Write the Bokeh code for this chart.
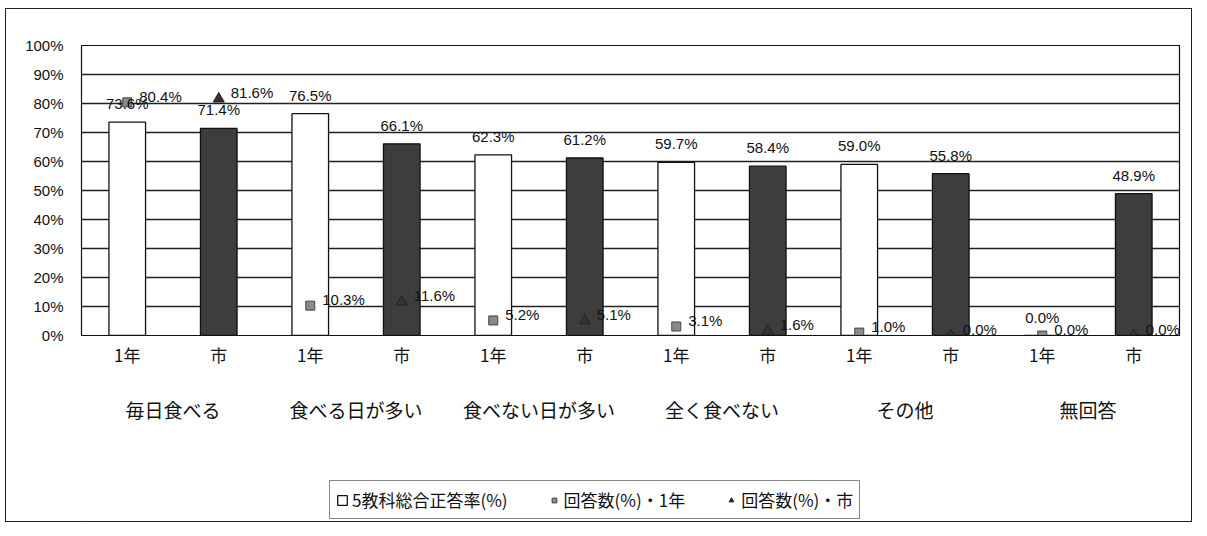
from bokeh.plotting import figure
from bokeh.layouts import column
from bokeh.models import (FactorRange, Range1d, ColumnDataSource, LabelSet, Legend, LegendItem,
                          CategoricalAxis, PrintfTickFormatter, FixedTicker)
from bokeh.core.properties import value
from bokeh.embed import file_html
from bokeh.resources import INLINE

groups = ["毎日食べる", "食べる日が多い", "食べない日が多い", "全く食べない", "その他", "無回答"]
subs = ["1年", "市"]
rate_1nen = [73.6, 76.5, 62.3, 59.7, 59.0, 0.0]
rate_shi = [71.4, 66.1, 61.2, 58.4, 55.8, 48.9]
resp_1nen = [80.4, 10.3, 5.2, 3.1, 1.0, 0.0]
resp_shi = [81.6, 11.6, 5.1, 1.6, 0.0, 0.0]
y_ticks = list(range(0, 101, 10))
legend_labels = ["5教科総合正答率(%)", "回答数(%)・1年", "回答数(%)・市"]

NUM_FONT = "Liberation Sans"
JP_FONT = "Noto Sans CJK JP"

factors = [(g, s) for g in groups for s in subs]
x1 = [(g, "1年") for g in groups]
x2 = [(g, "市") for g in groups]

def fmt(vals):
    return [f"{v:.1f}%" for v in vals]

src_b1 = ColumnDataSource(dict(x=x1, top=rate_1nen, lab=fmt(rate_1nen)))
src_b2 = ColumnDataSource(dict(x=x2, top=rate_shi, lab=fmt(rate_shi)))
src_m1 = ColumnDataSource(dict(x=x1, y=resp_1nen, lab=fmt(resp_1nen)))
src_m2 = ColumnDataSource(dict(x=x2, y=resp_shi, lab=fmt(resp_shi)))

BAR1 = dict(fill_color="white", line_color="#111", line_width=1.3)
BAR2 = dict(fill_color="#3d3d3d", line_color="#111", line_width=1.3)
SQ = dict(marker="square", size=9, fill_color="#8a8a8a", line_color="#444")
TRI = dict(marker="triangle", size=11, fill_color="#333333", line_color="#222")

p = figure(x_range=FactorRange(*factors, factor_padding=0, group_padding=0, range_padding=0),
           y_range=Range1d(0, 100),
           frame_width=1098, frame_height=290,
           min_border_left=75, min_border_right=12, min_border_top=36, min_border_bottom=130,
           output_backend="svg", toolbar_location=None,
           x_axis_location=None, y_axis_location="left")
p.background_fill_color = "white"
p.border_fill_color = "white"
p.outline_line_color = "#111"
p.outline_line_width = 1.2

p.extra_x_ranges = {"grp": FactorRange(*groups, factor_padding=0, range_padding=0)}

# y axis
yax = p.yaxis[0]
yax.ticker = FixedTicker(ticks=y_ticks)
yax.formatter = PrintfTickFormatter(format="%d%%")
yax.major_tick_line_color = None
yax.minor_tick_line_color = None
yax.axis_line_color = "#111"
yax.major_label_text_font = NUM_FONT
yax.major_label_text_font_size = "15px"
yax.major_label_text_color = "#111"
yax.major_label_standoff = 12

p.ygrid.ticker = FixedTicker(ticks=y_ticks)
p.ygrid.grid_line_color = "#222"
p.ygrid.grid_line_width = 1.3
p.xgrid.grid_line_color = None

# x axes
xax = CategoricalAxis()
xax.axis_line_color = "#111"
xax.major_tick_line_color = None
xax.minor_tick_line_color = None
xax.major_label_text_font = JP_FONT
xax.major_label_text_font_size = "17px"
xax.major_label_text_color = "#111"
xax.major_label_standoff = 0
xax.group_text_color = None
xax.group_text_font_size = "16px"
xax.separator_line_color = None
p.add_layout(xax, "below")

gax = CategoricalAxis(x_range_name="grp")
gax.axis_line_color = None
gax.major_tick_line_color = None
gax.minor_tick_line_color = None
gax.major_label_text_font = JP_FONT
gax.major_label_text_font_size = "19px"
gax.major_label_text_color = "#111"
gax.major_label_standoff = 20
p.add_layout(gax, "below")

# bars
r_b1 = p.vbar(x="x", top="top", width=0.4, source=src_b1, **BAR1)
r_b2 = p.vbar(x="x", top="top", width=0.4, source=src_b2, **BAR2)

# markers
r_m1 = p.scatter(x="x", y="y", source=src_m1, **SQ)
r_m2 = p.scatter(x="x", y="y", source=src_m2, **TRI)

lab_kw = dict(text_font=value(NUM_FONT), text_font_size="15px", text_color="#111")
p.add_layout(LabelSet(x="x", y="top", text="lab", source=src_b1, text_align="center",
                      text_baseline="bottom", y_offset=10, **lab_kw))
p.add_layout(LabelSet(x="x", y="top", text="lab", source=src_b2, text_align="center",
                      text_baseline="bottom", y_offset=10, **lab_kw))
p.add_layout(LabelSet(x="x", y="y", text="lab", source=src_m1, text_align="left",
                      text_baseline="middle", x_offset=12, y_offset=6, **lab_kw))
p.add_layout(LabelSet(x="x", y="y", text="lab", source=src_m2, text_align="left",
                      text_baseline="middle", x_offset=12, y_offset=6, **lab_kw))

# legend strip (separate small figure so the legend box is not clipped)
q = figure(width=1185, height=56, x_range=Range1d(0, 1), y_range=Range1d(0, 1),
           min_border=0, output_backend="svg", toolbar_location=None,
           x_axis_location=None, y_axis_location=None)
q.outline_line_color = None
q.grid.grid_line_color = None
q.background_fill_color = "white"
q.border_fill_color = "white"
# legend proxies, placed outside the visible range of the strip
l1 = q.vbar(x=[-5], top=[-5], width=0.1, **BAR1)
l2 = q.scatter(x=[-5], y=[-5], **SQ)
l3 = q.scatter(x=[-5], y=[-5], **TRI)
legend = Legend(items=[LegendItem(label=legend_labels[0], renderers=[l1]),
                       LegendItem(label=legend_labels[1], renderers=[l2]),
                       LegendItem(label=legend_labels[2], renderers=[l3])],
                orientation="horizontal", location=(248, 2),
                label_text_font=JP_FONT, label_text_font_size="17px", label_text_color="#111",
                glyph_width=12, glyph_height=12, label_standoff=4, spacing=40, padding=6,
                margin=0, border_line_color="#111", border_line_width=1.2,
                background_fill_color="white", background_fill_alpha=1)
q.add_layout(legend, "center")

layout = column(p, q, spacing=0, margin=(8, 0, 0, 5),
                styles={"border": "1px solid #222", "background": "white"})

open("out.html", "w").write(file_html(layout, INLINE))
